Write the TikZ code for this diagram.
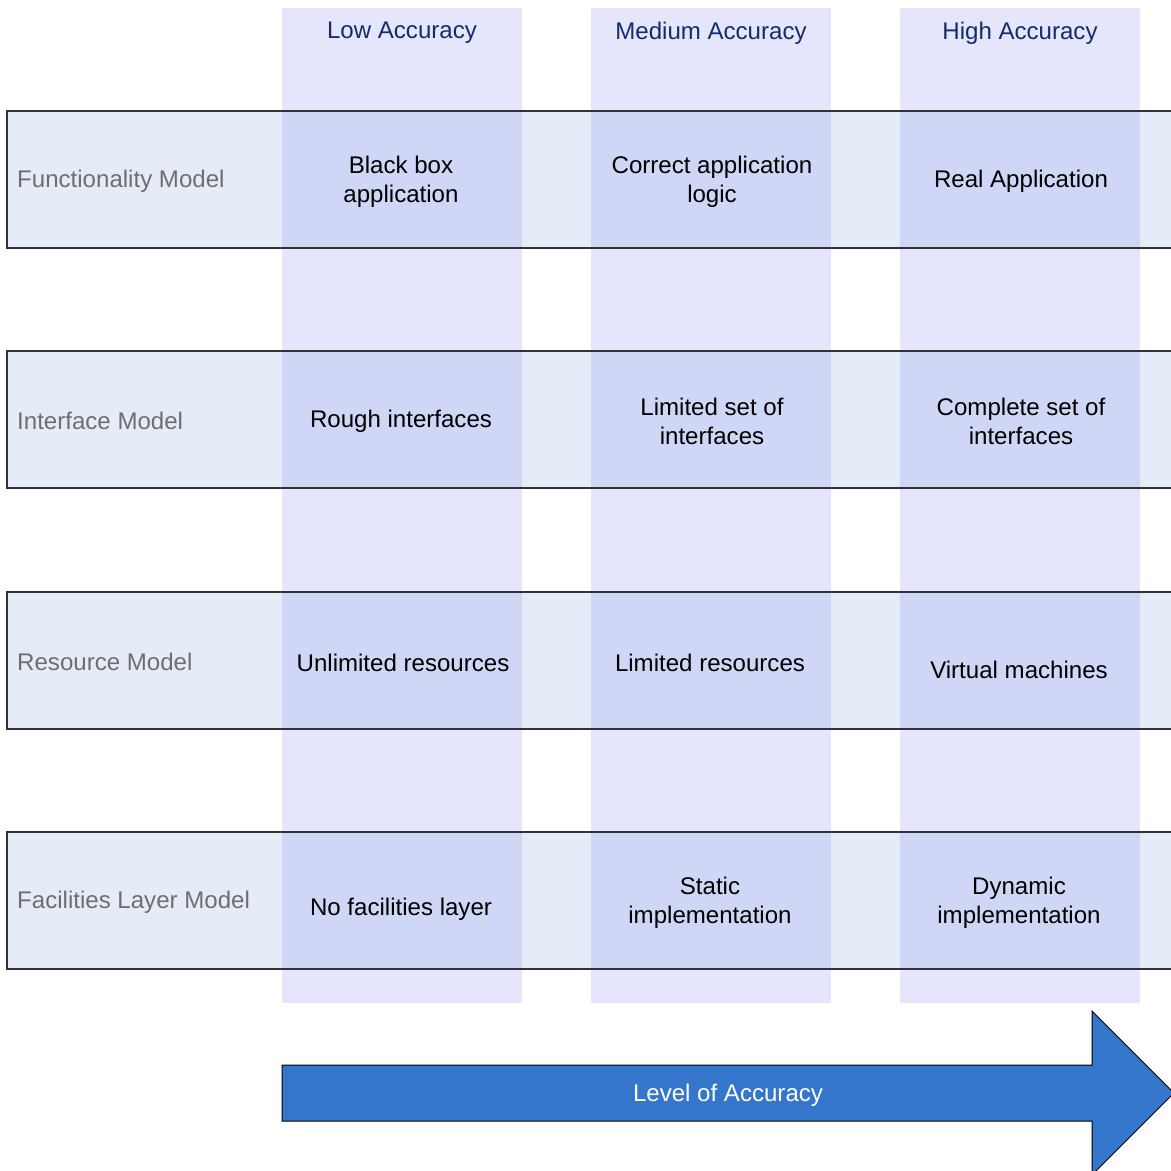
\documentclass[tikz,border=0pt]{standalone}
\usepackage{fontspec}
\setmainfont{Liberation Sans}
\definecolor{colfill}{HTML}{E5E5FC}
\definecolor{rowfill}{HTML}{E6ECF7}
\definecolor{cellfill}{HTML}{D0D6F5}
\definecolor{headtext}{HTML}{142C6C}
\definecolor{labeltext}{HTML}{6E6E6E}
\definecolor{arrowfill}{HTML}{3476CC}
\tikzset{
  cell/.style={align=center, font=\fontsize{13.7}{16.5}\selectfont},
  heading/.style={cell, text=headtext},
  rowlabel/.style={cell, anchor=west, text=labeltext},
  rowline/.style={draw=black!80, line width=0.03cm},
}
\begin{document}
\begin{tikzpicture}[x=0.02cm,y=-0.02cm]
\useasboundingbox (0,0) rectangle (1171,1171);
% accuracy columns
\foreach \x in {282,591,900}
  \fill[colfill] (\x,8) rectangle ++(240,995);
% model rows
\foreach \y in {111,351,592,832} {
  \fill[rowfill] (7,\y) rectangle (1180,\y+137);
  \foreach \x in {282,591,900}
    \fill[cellfill] (\x,\y) rectangle ++(240,137);
  \draw[rowline] (7,\y) rectangle (1180,\y+137);
}
% headings
\node[heading] (low) at (402,33) {Low Accuracy};
\node[heading] (medium) at (711,33) {Medium Accuracy};
\node[heading] (high) at (1020,33) {High Accuracy};
% row labels
\node[rowlabel] (func) at (11,181) {Functionality Model};
\node[rowlabel] (iface) at (11,421) {Interface Model};
\node[rowlabel] (res) at (11,662) {Resource Model};
\node[rowlabel] (fac) at (11,902) {Facilities Layer Model};
% cells
\node[cell] (func-low) at (401,181.5) {Black box\\application};
\node[cell] (func-med) at (712,181.5) {Correct application\\logic};
\node[cell] (func-high) at (1021,181.5) {Real Application};
\node[cell] (iface-low) at (401,421.5) {Rough interfaces};
\node[cell] (iface-med) at (712,421.5) {Limited set of\\interfaces};
\node[cell] (iface-high) at (1021,421.5) {Complete set of\\interfaces};
\node[cell] (res-low) at (403,662.5) {Unlimited resources};
\node[cell] (res-med) at (710,662.5) {Limited resources};
\node[cell] (res-high) at (1019,669.5) {Virtual machines};
\node[cell] (fac-low) at (401,909.5) {No facilities layer};
\node[cell] (fac-med) at (710,902.5) {Static\\implementation};
\node[cell] (fac-high) at (1019,902.5) {Dynamic\\implementation};
% accuracy arrow
\filldraw[fill=arrowfill, draw=black, line width=0.02cm]
  (282,1065) -- (1092,1065) -- (1092,1011) -- (1174,1093)
  -- (1092,1175) -- (1092,1121) -- (282,1121) -- cycle;
\node[cell, text=white] (level) at (728,1095) {Level of Accuracy};
\end{tikzpicture}
\end{document}
